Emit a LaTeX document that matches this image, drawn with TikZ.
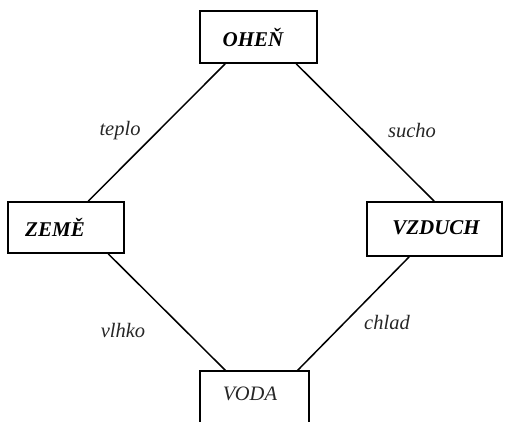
\documentclass[tikz,border=0pt]{standalone}
\usepackage{fontspec}
\setmainfont{Liberation Serif}
\usetikzlibrary{calc}
\begin{document}
\begin{tikzpicture}[x=1pt,y=-1pt,
  box/.style={draw=black,line width=1.6pt,rectangle,inner sep=0pt,anchor=center},
  elem/.style={font=\fontsize{21}{24}\selectfont\bfseries\itshape,inner sep=0pt,anchor=center},
  qual/.style={font=\fontsize{20.5}{24}\selectfont\itshape,inner sep=0pt,anchor=center,text=black!85},
  conn/.style={draw=black,line width=1.5pt}]
\useasboundingbox (0,0) rectangle (514,422);
% boxes
\node[box,minimum width=117pt,minimum height=52pt] (ohen) at (258.5,37) {};
\node[box,minimum width=116pt,minimum height=51pt] (zeme) at (66,227.5) {};
\node[box,minimum width=135pt,minimum height=54pt] (vzduch) at (434.5,229) {};
\coordinate (vodaTL) at (200,371);
\coordinate (vodaTR) at (309,371);
\draw[line width=1.6pt] ($(vodaTL)+(0,60)$) -- (vodaTL) -- (vodaTR) -- ($(vodaTR)+(0,60)$);
% texts
\node[elem] (tohen) at (253,37) {OHEŇ};
\node[elem] (tzeme) at (55,227) {ZEMĚ};
\node[elem] (tvzduch) at (436,228) {VZDUCH};
\node[qual] (tvoda) at (250,394) {VODA};
% connectors
\draw[conn] ($(ohen.south west)+(26,0)$) -- ($(zeme.north west)+(81,0)$);
\draw[conn] ($(ohen.south west)+(97,0)$) -- ($(vzduch.north west)+(68,0)$);
\draw[conn] ($(zeme.south west)+(101,0)$) -- ($(vodaTL)+(26,0)$);
\draw[conn] ($(vzduch.south west)+(43,0)$) -- ($(vodaTL)+(97,0)$);
% labels
\node[qual] (teplo) at (120,131) {teplo};
\node[qual] (sucho) at (412,131) {sucho};
\node[qual] (vlhko) at (123,330) {vlhko};
\node[qual] (chlad) at (387,322) {chlad};
\end{tikzpicture}
\end{document}
